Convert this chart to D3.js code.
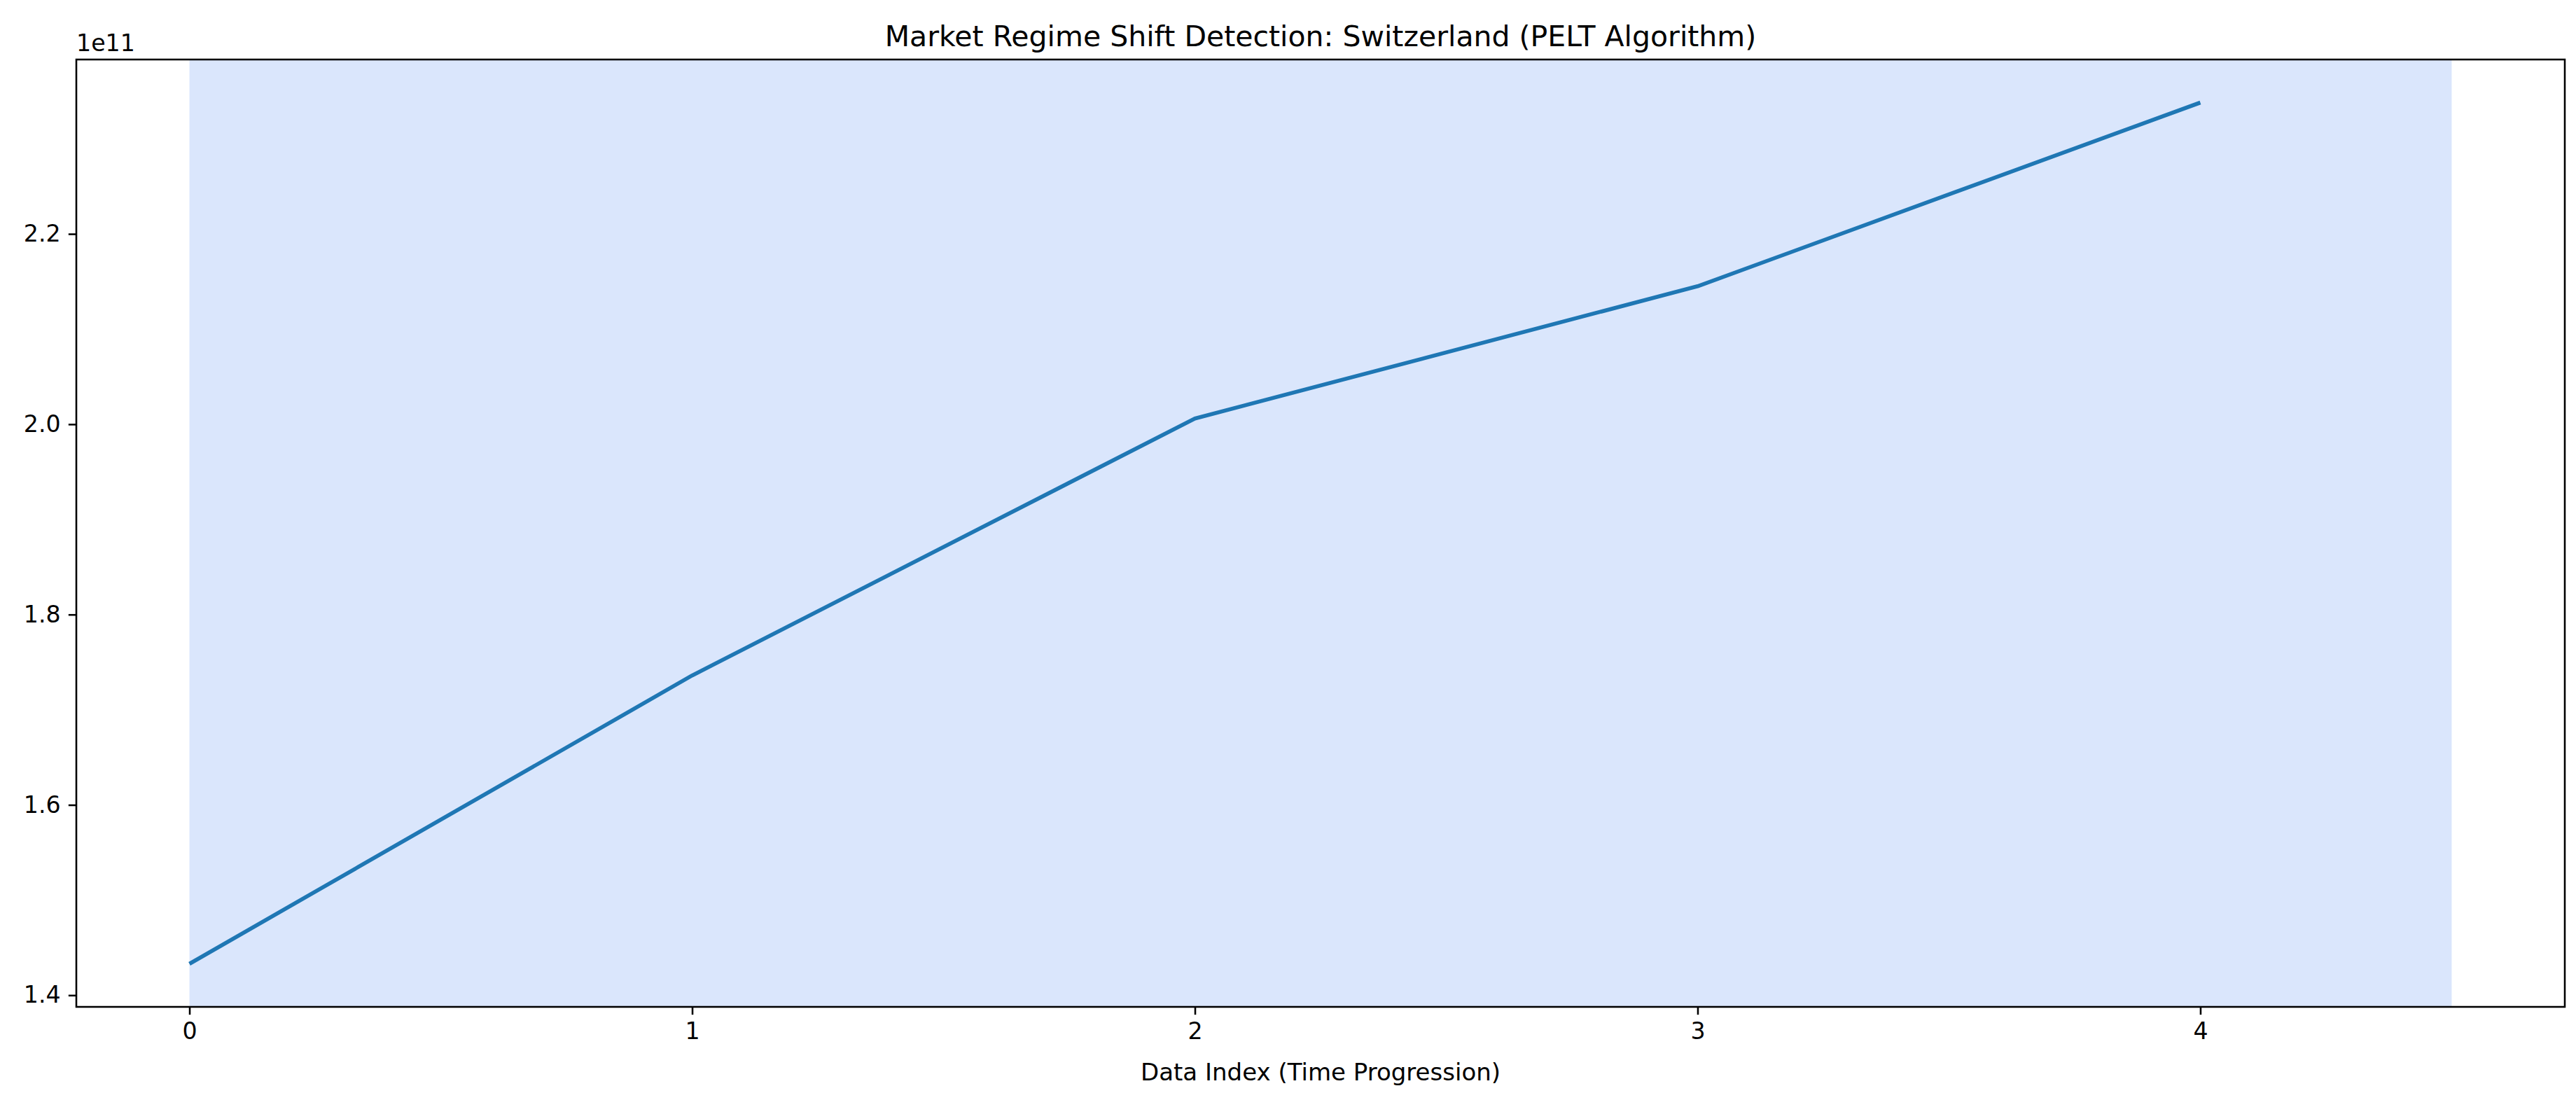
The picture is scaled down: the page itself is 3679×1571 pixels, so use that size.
<!DOCTYPE html>
<html>
<head>
<meta charset="utf-8">
<script src="https://cdn.jsdelivr.net/npm/d3@7"></script>
<style>
  html, body { margin: 0; padding: 0; background: #fff; }
  svg { display: block; font-family: "DejaVu Sans", sans-serif; }
</style>
</head>
<body>
<svg id="chart" width="3679" height="1571"></svg>
<script>
// ---- data ----
const indices = [0, 1, 2, 3, 4];
const values = [1.433e11, 1.736e11, 2.006e11, 2.145e11, 2.338e11];
const regimeSpans = [[0, 4.5]];
const xTicks = [0, 1, 2, 3, 4];
const yTicks = [1.4e11, 1.6e11, 1.8e11, 2.0e11, 2.2e11];
const titleText = "Market Regime Shift Detection: Switzerland (PELT Algorithm)";
const xLabelText = "Data Index (Time Progression)";
const offsetText = "1e11";

// ---- layout ----
const W = 3679, H = 1571;
const m = { left: 109, top: 85, right: W - 3663, bottom: H - 1438 };
const pw = W - m.left - m.right, ph = H - m.top - m.bottom;
const pt = 230 / 72;

const svg = d3.select("#chart");
const g = svg.append("g").attr("transform", `translate(${m.left},${m.top})`);

// x domain: span of data and shaded spans plus 5% margins
const xMin = d3.min([d3.min(indices), d3.min(regimeSpans, d => d[0])]);
const xMax = d3.max([d3.max(indices), d3.max(regimeSpans, d => d[1])]);
const xPad = (xMax - xMin) * 0.05;
const x = d3.scaleLinear().domain([xMin - xPad, xMax + xPad]).range([0, pw]);

const yMin = d3.min(values), yMax = d3.max(values);
const yPad = (yMax - yMin) * 0.05;
const y = d3.scaleLinear().domain([yMin - yPad, yMax + yPad]).range([ph, 0]);

// shaded regime spans
g.selectAll("rect.span").data(regimeSpans).enter().append("rect")
  .attr("class", "span")
  .attr("x", d => x(d[0]))
  .attr("width", d => x(d[1]) - x(d[0]))
  .attr("y", 0).attr("height", ph)
  .attr("fill", "rgb(218,230,252)");

// line
const line = d3.line().x((d, i) => x(indices[i])).y(d => y(d));
g.append("path").datum(values)
  .attr("d", line)
  .attr("fill", "none")
  .attr("stroke", "#1f77b4")
  .attr("stroke-width", 5.6)
  .attr("stroke-linecap", "butt")
  .attr("stroke-linejoin", "round");

// axes
const tickLen = 3.5 * pt, tickPad = 3.5 * pt;
const fs = 10 * pt * 1.04;

const xAxis = d3.axisBottom(x).tickValues(xTicks).tickFormat(d3.format("d"))
  .tickSize(tickLen).tickPadding(tickPad);
const xg = g.append("g").attr("transform", `translate(0,${ph})`).call(xAxis);

const yAxis = d3.axisLeft(y).tickValues(yTicks).tickFormat(d => (d / 1e11).toFixed(1))
  .tickSize(tickLen).tickPadding(tickPad);
const yg = g.append("g").call(yAxis);

[xg, yg].forEach(ax => {
  ax.select(".domain").remove();
  ax.selectAll(".tick line").attr("stroke", "#000").attr("stroke-width", 0.8 * pt);
  ax.selectAll(".tick text").attr("fill", "#000")
    .style("font-size", fs + "px").style("font-family", "DejaVu Sans");
});

// frame (spines)
g.append("rect").attr("x", 0).attr("y", 0).attr("width", pw).attr("height", ph)
  .attr("fill", "none").attr("stroke", "#000").attr("stroke-width", 0.8 * pt);

// offset text
svg.append("text").attr("x", m.left).attr("y", m.top - 12)
  .attr("font-size", fs).attr("fill", "#000").text(offsetText);

// title
svg.append("text").attr("x", m.left + pw / 2).attr("y", m.top - 6 * pt)
  .attr("text-anchor", "middle").attr("font-size", 12 * pt * 1.07).attr("fill", "#000")
  .text(titleText);

// x label
svg.append("text").attr("x", m.left + pw / 2).attr("y", 1543)
  .attr("text-anchor", "middle").attr("font-size", 10 * pt * 1.065).attr("fill", "#000")
  .text(xLabelText);
</script>
</body>
</html>
